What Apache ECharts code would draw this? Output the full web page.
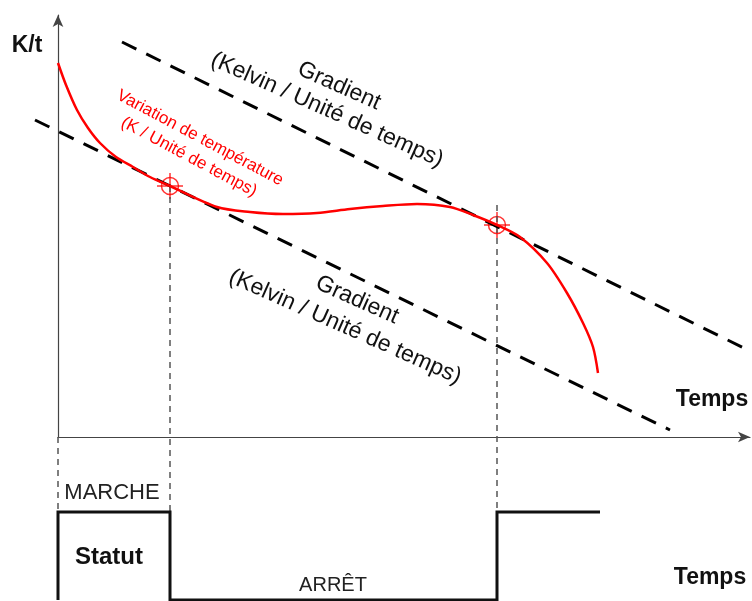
<!DOCTYPE html>
<html>
<head>
<meta charset="utf-8">
<script src="https://cdn.jsdelivr.net/npm/echarts@6/dist/echarts.min.js"></script>
<style>
  html, body { margin: 0; padding: 0; background: #fff; }
  #chart { width: 752px; height: 601px; }
</style>
</head>
<body>
<div id="chart"></div>
<script>
// courbe de variation de température (t, K/t)
const curveT = [0, 0.8, 1.9, 3.0, 4.2, 5.8, 7.5, 9.2, 11.2, 15.9, 19.2, 22.5, 25.9, 29.2, 32.5, 35.9, 39.2, 41.5, 43.9, 46.2, 48.9, 50.9, 52.5, 53.5, 54.0];
const curveK = [37.4, 35.2, 32.7, 30.9, 29.4, 28.0, 27.0, 26.0, 25.1, 23.0, 22.5, 22.3, 22.4, 22.8, 23.1, 23.3, 23.0, 22.2, 21.2, 20.0, 17.4, 14.4, 11.4, 9.0, 6.4];
// droites de gradient (début, fin)
const gradHighT = [6.4, 69.2];
const gradHighK = [39.5, 8.6];
const gradLowT = [-2.3, 61.2];
const gradLowK = [31.7, 0.7];
// points de commutation
const switchT = [11.2, 43.9];
const switchK = [25.1, 21.2];
const guideT = [0, 11.2, 43.9];
const guideTop = [0, 25.1, 23.2];
const guideBottom = -7.5;
// statut MARCHE (1) / ARRÊT (0)
const statusT = [0, 0, 11.2, 11.2, 43.9, 43.9, 54.2];
const statusV = [0, 1, 1, 0, 0, 1, 1];

const zip = (a, b) => a.map((v, i) => [v, b[i]]);
const font = 'Liberation Sans, Arial, sans-serif';
const deg = Math.PI / 180;

const chart = echarts.init(document.getElementById('chart'));

const guides = guideT.map((t, i) => ({
  type: 'line',
  xAxisIndex: 0, yAxisIndex: 0,
  data: [[t, guideTop[i]], [t, guideBottom]],
  symbol: 'none', clip: false, silent: true,
  lineStyle: { color: '#555', width: 1.5, type: [6, 5] }
}));

const label = (text, x, y, size, rot, color, weight) => ({
  type: 'text', x: x, y: y, rotation: rot * deg,
  style: {
    text: text, font: (weight || '') + ' ' + size + 'px ' + font,
    fill: color || '#111', align: 'center', verticalAlign: 'middle'
  }
});

const option = {
  animation: false,
  grid: [
    { left: 58, right: 2, top: 15, bottom: 164 },
    { left: 58, right: 2, top: 437, bottom: 1 },
    { left: 0, right: 2, top: 15, bottom: 164 }
  ],
  xAxis: [
    {
      gridIndex: 0, type: 'value', min: 0, max: 69.2,
      axisLine: { show: true, symbol: ['none', 'arrow'], symbolSize: [8, 12], lineStyle: { color: '#444', width: 1.2 } },
      axisTick: { show: false }, axisLabel: { show: false }, splitLine: { show: false }
    },
    { gridIndex: 1, type: 'value', min: 0, max: 69.2, show: false },
    { gridIndex: 2, type: 'value', min: -5.8, max: 69.2, show: false }
  ],
  yAxis: [
    {
      gridIndex: 0, type: 'value', min: 0, max: 42.2,
      axisLine: { show: true, symbol: ['none', 'arrow'], symbolSize: [8, 12], lineStyle: { color: '#444', width: 1.2 } },
      axisTick: { show: false }, axisLabel: { show: false }, splitLine: { show: false }
    },
    { gridIndex: 1, type: 'value', min: 0, max: 1.852, show: false },
    { gridIndex: 2, type: 'value', min: 0, max: 42.2, show: false }
  ],
  series: [
    ...guides,
    {
      type: 'line', xAxisIndex: 2, yAxisIndex: 2,
      data: zip(gradHighT, gradHighK),
      symbol: 'none', clip: false,
      lineStyle: { color: '#000', width: 3, type: [16, 11] }
    },
    {
      type: 'line', xAxisIndex: 2, yAxisIndex: 2,
      data: zip(gradLowT, gradLowK),
      symbol: 'none', clip: false,
      lineStyle: { color: '#000', width: 3, type: [16, 11] }
    },
    {
      type: 'line', xAxisIndex: 0, yAxisIndex: 0,
      data: zip(curveT, curveK),
      smooth: 0.3, symbol: 'none',
      lineStyle: { color: '#ff0000', width: 2.5 }
    },
    {
      type: 'scatter', xAxisIndex: 0, yAxisIndex: 0,
      data: zip(switchT, switchK),
      symbol: 'circle', symbolSize: 17,
      itemStyle: { color: 'rgba(0,0,0,0)', borderColor: '#ff0000', borderWidth: 1.5 }
    },
    {
      type: 'scatter', xAxisIndex: 0, yAxisIndex: 0,
      data: zip(switchT, switchK),
      symbol: 'path://M0,10L20,10M10,0L10,20', symbolSize: 26,
      itemStyle: { color: 'rgba(0,0,0,0)', borderColor: '#ff0000', borderWidth: 1.5 }
    },
    {
      type: 'line', xAxisIndex: 1, yAxisIndex: 1,
      data: zip(statusT, statusV),
      symbol: 'none', clip: false,
      lineStyle: { color: '#111', width: 3, join: 'miter' }
    }
  ],
  graphic: [
    label('K/t', 27, 46, 23, 0, '#111', 'bold'),
    label('Gradient', 339, 86, 23, -24),
    label('(Kelvin / Unité de temps)', 327, 110, 23, -24),
    label('Gradient', 357, 300, 23, -24),
    label('(Kelvin / Unité de temps)', 345, 327, 23, -24),
    label('Variation de température', 200, 138, 17, -28, '#ff0000'),
    label('(K / Unité de temps)', 189, 157, 17, -28, '#ff0000'),
    label('Temps', 712, 400, 23, 0, '#111', 'bold'),
    label('Temps', 710, 578, 23, 0, '#111', 'bold'),
    label('MARCHE', 112, 493, 22, 0, '#222'),
    label('Statut', 109, 557, 24, 0, '#111', 'bold'),
    label('ARRÊT', 333, 585, 20, 0, '#222')
  ]
};

chart.setOption(option);
</script>
</body>
</html>
